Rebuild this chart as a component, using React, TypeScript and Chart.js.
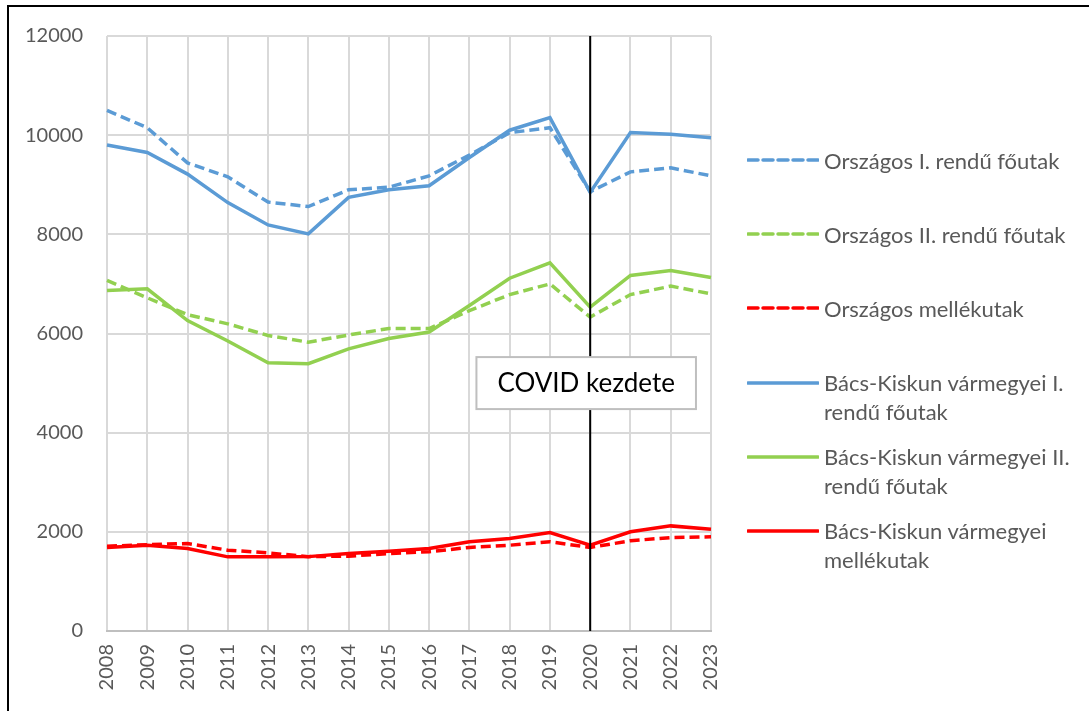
import React, { useEffect, useRef } from "react";
import { Chart, registerables } from "chart.js";

Chart.register(...registerables);

const years = ["2008", "2009", "2010", "2011", "2012", "2013", "2014", "2015", "2016", "2017", "2018", "2019", "2020", "2021", "2022", "2023"];

const orszagosI = [10500, 10150, 9440, 9160, 8650, 8560, 8900, 8950, 9180, 9600, 10050, 10150, 8860, 9260, 9340, 9180];
const orszagosII = [7070, 6720, 6380, 6195, 5960, 5825, 5970, 6100, 6100, 6460, 6785, 7000, 6330, 6785, 6955, 6800];
const orszagosMellek = [1710, 1740, 1765, 1630, 1575, 1500, 1510, 1560, 1600, 1685, 1730, 1800, 1685, 1820, 1885, 1900];
const bacsI = [9800, 9650, 9215, 8640, 8190, 8010, 8745, 8900, 8980, 9550, 10100, 10355, 8845, 10055, 10020, 9950];
const bacsII = [6865, 6900, 6260, 5850, 5410, 5390, 5690, 5900, 6030, 6565, 7115, 7425, 6530, 7170, 7270, 7130];
const bacsMellek = [1685, 1730, 1665, 1495, 1495, 1500, 1565, 1610, 1665, 1800, 1865, 1985, 1730, 2000, 2120, 2050];

const seriesLabels = [
  "Országos I. rendű főutak",
  "Országos II. rendű főutak",
  "Országos mellékutak",
  "Bács-Kiskun vármegyei I. rendű főutak",
  "Bács-Kiskun vármegyei II. rendű főutak",
  "Bács-Kiskun vármegyei mellékutak",
];
const seriesData = [orszagosI, orszagosII, orszagosMellek, bacsI, bacsII, bacsMellek];
const seriesColors = ["#5b9bd5", "#92d050", "#ff0000", "#5b9bd5", "#92d050", "#ff0000"];
const seriesDashed = [true, true, true, false, false, false];

const yMin = 0;
const yMax = 12000;
const yStep = 2000;

const annotationYear = "2020";
const annotationText = "COVID kezdete";
const annotationValue = 5000;

const FONT = "Lato, 'Open Sans', sans-serif";
const TEXT_GRAY = "#595959";
const DASH = [10, 5];

const covidPlugin = {
  id: "covidMarker",
  afterDatasetsDraw(chart: any) {
    const { ctx, chartArea, scales } = chart;
    const x = scales.x.getPixelForValue(years.indexOf(annotationYear));
    ctx.save();
    ctx.strokeStyle = "#000000";
    ctx.lineWidth = 2;
    ctx.beginPath();
    ctx.moveTo(x, chartArea.top);
    ctx.lineTo(x, chartArea.bottom);
    ctx.stroke();

    const cy = scales.y.getPixelForValue(annotationValue);
    ctx.font = `26px ${FONT}`;
    const tw = ctx.measureText(annotationText).width;
    const w = tw + 42;
    const h = 52;
    const cx = x - 4;
    ctx.fillStyle = "#ffffff";
    ctx.fillRect(cx - w / 2, cy - h / 2, w, h);
    ctx.strokeStyle = "#bfbfbf";
    ctx.lineWidth = 2;
    ctx.strokeRect(cx - w / 2, cy - h / 2, w, h);
    ctx.fillStyle = "#000000";
    ctx.textAlign = "center";
    ctx.textBaseline = "middle";
    ctx.fillText(annotationText, cx, cy + 1);
    ctx.restore();
  },
};

function LegendSample({ color, dashed }: { color: string; dashed: boolean }) {
  return (
    <svg width={72} height={6} style={{ position: "absolute", left: 0, top: 11.5 }}>
      <line
        x1={1}
        y1={3}
        x2={71}
        y2={3}
        stroke={color}
        strokeWidth={3.5}
        strokeDasharray={dashed ? DASH.join(" ") : undefined}
        strokeLinecap="round"
      />
    </svg>
  );
}

export default function App() {
  const canvasRef = useRef<HTMLCanvasElement | null>(null);

  useEffect(() => {
    if (!canvasRef.current) return;
    const order = [1, 1, 1, 0, 0, 0];
    const chart = new Chart(canvasRef.current, {
      type: "line",
      data: {
        labels: years,
        datasets: seriesLabels.map((label, i) => ({
          label,
          data: seriesData[i],
          borderColor: seriesColors[i],
          backgroundColor: seriesColors[i],
          borderWidth: 3.5,
          borderDash: seriesDashed[i] ? DASH : [],
          pointRadius: 0,
          tension: 0,
          fill: false,
          order: order[i],
        })),
      },
      options: {
        responsive: false,
        animation: false,
        maintainAspectRatio: false,
        layout: { padding: { left: 0, top: 35, right: 378, bottom: 0 } },
        plugins: {
          legend: { display: false },
          tooltip: { enabled: false },
        },
        scales: {
          x: {
            type: "category",
            offset: false,
            grid: { color: "#d9d9d9", lineWidth: 2, drawTicks: false },
            border: { color: "#bfbfbf", width: 2 },
            ticks: {
              minRotation: 90,
              maxRotation: 90,
              autoSkip: false,
              padding: 13,
              color: TEXT_GRAY,
              font: { family: FONT, size: 20 },
            },
            afterFit: (s: any) => {
              s.height = 80;
            },
          },
          y: {
            min: yMin,
            max: yMax,
            grid: { color: "#d9d9d9", lineWidth: 2, drawTicks: false },
            border: { display: false },
            ticks: {
              stepSize: yStep,
              padding: 24,
              color: TEXT_GRAY,
              font: { family: FONT, size: 20 },
              callback: (v: any) => String(v),
            },
            afterFit: (s: any) => {
              s.width = 107;
            },
          },
        },
      },
      plugins: [covidPlugin],
    });
    return () => chart.destroy();
  }, []);

  return (
    <div
      style={{
        position: "fixed",
        left: 0,
        top: 0,
        width: 1089,
        height: 711,
        overflow: "hidden",
        background: "#ffffff",
      }}
    >
      <div
        style={{
          position: "absolute",
          left: 7,
          top: 5,
          width: 1200,
          height: 800,
          borderLeft: "2px solid #000",
          borderTop: "2px solid #000",
        }}
      />
      <canvas ref={canvasRef} width={1089} height={711} style={{ position: "absolute", left: 0, top: 0 }} />
      <div style={{ position: "absolute", left: 747, top: 145.5 }}>
        {seriesLabels.map((label, i) => (
          <div key={label} style={{ position: "relative", height: 74.2, width: 340 }}>
            <LegendSample color={seriesColors[i]} dashed={seriesDashed[i]} />
            <div
              style={{
                position: "absolute",
                left: 77,
                top: 0,
                width: 262,
                fontFamily: FONT,
                fontSize: 22,
                lineHeight: "29px",
                color: TEXT_GRAY,
              }}
            >
              {label}
            </div>
          </div>
        ))}
      </div>
    </div>
  );
}
